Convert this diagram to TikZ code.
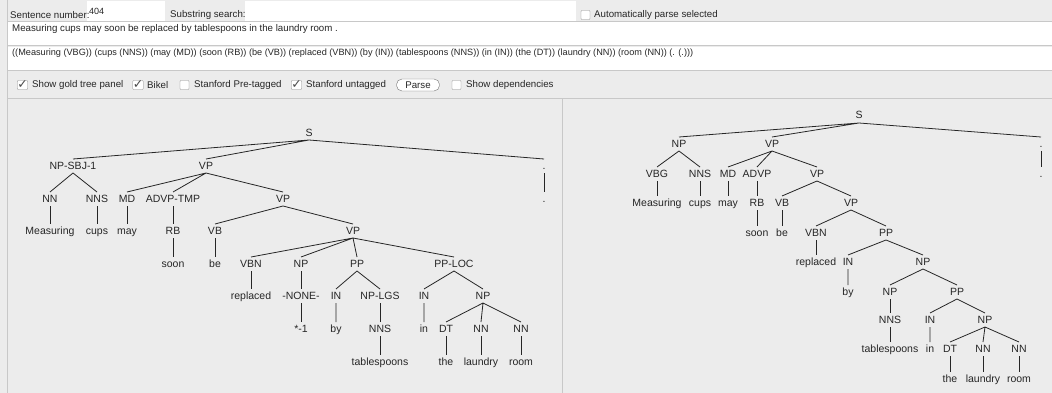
\documentclass[tikz,border=0pt]{standalone}
\usepackage{fontspec}
\setmainfont{Liberation Sans}
\newfontfamily\symfont{DejaVu Sans}
\definecolor{panelgray}{HTML}{ECECEC}
\definecolor{rulegray}{HTML}{C8C8C8}
\definecolor{inkgray}{HTML}{262626}
\tikzset{
	tagnode/.style={inner sep=0pt, outer sep=2pt, text height=8pt, text depth=2pt,
		font=\fontsize{10.5}{12}\selectfont, text=inkgray},
	branch/.style={draw=inkgray, line width=0.8pt},
	uitext/.style={inner sep=0pt, anchor=west, font=\fontsize{9.7}{11}\selectfont, text=inkgray},
	tickbox/.style={draw=black!45, fill=white, rounded corners=0.8pt, minimum size=9pt,
		inner sep=0pt, font=\symfont\fontsize{12.5}{12}\selectfont, text=black!70}
}

\begin{document}
\begin{tikzpicture}[x=1pt, y=-1pt]
	\useasboundingbox (0,0) rectangle (1052,393);
	\fill[panelgray] (0,0) rectangle (1052,393);
	% header fields
	\fill[white] (87,1) rectangle (165,21);
	\fill[white] (245,1) rectangle (576,21);
	\fill[white] (8,22) rectangle (1052,45);
	\fill[white] (8,47) rectangle (1052,70);
	\draw[rulegray] (8,21.5) -- (1052,21.5);
	\draw[rulegray] (8,45.5) -- (1052,45.5);
	\draw[rulegray] (8,70.5) -- (1052,70.5);
	\draw[rulegray] (8,98.5) -- (1052,98.5);
	\draw[rulegray] (7.5,0) -- (7.5,393);
	\draw[rulegray] (562,98.5) -- (562,393);

	\node[uitext] (sentlabel) at (10,15) {Sentence number:};
	\node[uitext, font=\fontsize{9}{10}\selectfont] (sentnum) at (89,11) {404};
	\node[uitext] (searchlabel) at (170,15) {Substring search:};
	\node[tickbox] (autobox) at (585.5,15) {};
	\node[uitext] (autolabel) at (594,15) {Automatically parse selected};
	\node[uitext] (sentence) at (12,29) {Measuring cups may soon be replaced by tablespoons in the laundry room .};
	\node[uitext, font=\fontsize{9.15}{10}\selectfont] (parsestr) at (12,53) {((Measuring (VBG)) (cups (NNS)) (may (MD)) (soon (RB)) (be (VB)) (replaced (VBN)) (by (IN)) (tablespoons (NNS)) (in (IN)) (the (DT)) (laundry (NN)) (room (NN)) (. (.)))};

	% toolbar
	\node[tickbox] (goldbox) at (22.5,85) {✓};
	\node[uitext] (goldlabel) at (32,85) {Show gold tree panel};
	\node[tickbox] (bikelbox) at (138,85) {✓};
	\node[uitext] (bikellabel) at (147,85) {Bikel};
	\node[tickbox] (pretagbox) at (184.5,85) {};
	\node[uitext] (pretaglabel) at (194,85) {Stanford Pre-tagged};
	\node[tickbox] (untagbox) at (296.5,85) {✓};
	\node[uitext] (untaglabel) at (306,85) {Stanford untagged};
	\node[draw=black!55, fill=white, rounded corners=5.5pt, minimum width=43pt, minimum height=12pt,
		inner sep=0pt, font=\fontsize{9.7}{11}\selectfont, text=inkgray] (parsebtn) at (418,85) {Parse};
	\node[tickbox] (depbox) at (456.5,85) {};
	\node[uitext] (deplabel) at (466,85) {Show dependencies};

	% gold tree
	\node[tagnode] (ls) at (309,133) {S};
	\node[tagnode] (lnpsbj) at (73,166) {NP-SBJ-1};
	\node[tagnode] (lvp1) at (206,166) {VP};
	\node[tagnode] (lpt) at (544,166) {.};
	\node[tagnode] (lnn) at (50,199) {NN};
	\node[tagnode] (lnns) at (97,199) {NNS};
	\node[tagnode] (lmd) at (127,199) {MD};
	\node[tagnode] (ladvp) at (173,199) {ADVP-TMP};
	\node[tagnode] (lvp2) at (283,199) {VP};
	\node[tagnode] (lpw) at (544,199) {.};
	\node[tagnode] (lw1) at (50,231) {Measuring};
	\node[tagnode] (lw2) at (97,231) {cups};
	\node[tagnode] (lw3) at (127,231) {may};
	\node[tagnode] (lrb) at (173,231) {RB};
	\node[tagnode] (lvb) at (215,231) {VB};
	\node[tagnode] (lvp3) at (353,231) {VP};
	\node[tagnode] (lw4) at (173,264) {soon};
	\node[tagnode] (lw5) at (215,264) {be};
	\node[tagnode] (lvbn) at (251,264) {VBN};
	\node[tagnode] (lnp1) at (301,264) {NP};
	\node[tagnode] (lpp) at (357,264) {PP};
	\node[tagnode] (lpploc) at (454,264) {PP-LOC};
	\node[tagnode] (lw6) at (251,296) {replaced};
	\node[tagnode] (lnone) at (301,296) {-NONE-};
	\node[tagnode] (lin1) at (336,296) {IN};
	\node[tagnode] (lnplgs) at (380,296) {NP-LGS};
	\node[tagnode] (lin2) at (424,296) {IN};
	\node[tagnode] (lnp2) at (483,296) {NP};
	\node[tagnode] (lw7) at (301,329) {*-1};
	\node[tagnode] (lw8) at (336,329) {by};
	\node[tagnode] (lnns2) at (380,329) {NNS};
	\node[tagnode] (lw9) at (424,329) {in};
	\node[tagnode] (ldt) at (446,329) {DT};
	\node[tagnode] (lnn2) at (481,329) {NN};
	\node[tagnode] (lnn3) at (521,329) {NN};
	\node[tagnode] (lw10) at (380,362) {tablespoons};
	\node[tagnode] (lw11) at (446,362) {the};
	\node[tagnode] (lw12) at (481,362) {laundry};
	\node[tagnode] (lw13) at (521,362) {room};

	\draw[branch] (ls.south) -- (lnpsbj.north) (ls.south) -- (lvp1.north) (ls.south) -- (lpt.north);
	\draw[branch] (lnpsbj.south) -- (lnn.north) (lnpsbj.south) -- (lnns.north);
	\draw[branch] (lvp1.south) -- (lmd.north) (lvp1.south) -- (ladvp.north) (lvp1.south) -- (lvp2.north);
	\draw[branch] (lpt.south) -- (lpw.north);
	\draw[branch] (lnn.south) -- (lw1.north) (lnns.south) -- (lw2.north) (lmd.south) -- (lw3.north) (ladvp.south) -- (lrb.north);
	\draw[branch] (lvp2.south) -- (lvb.north) (lvp2.south) -- (lvp3.north);
	\draw[branch] (lrb.south) -- (lw4.north) (lvb.south) -- (lw5.north);
	\draw[branch] (lvp3.south) -- (lvbn.north) (lvp3.south) -- (lnp1.north) (lvp3.south) -- (lpp.north) (lvp3.south) -- (lpploc.north);
	\draw[branch] (lvbn.south) -- (lw6.north) (lnp1.south) -- (lnone.north) (lnone.south) -- (lw7.north);
	\draw[branch] (lpp.south) -- (lin1.north) (lpp.south) -- (lnplgs.north) (lin1.south) -- (lw8.north);
	\draw[branch] (lnplgs.south) -- (lnns2.north) (lnns2.south) -- (lw10.north);
	\draw[branch] (lpploc.south) -- (lin2.north) (lpploc.south) -- (lnp2.north) (lin2.south) -- (lw9.north);
	\draw[branch] (lnp2.south) -- (ldt.north) (lnp2.south) -- (lnn2.north) (lnp2.south) -- (lnn3.north);
	\draw[branch] (ldt.south) -- (lw11.north) (lnn2.south) -- (lw12.north) (lnn3.south) -- (lw13.north);

	% parser tree
	\node[tagnode] (rs) at (859,116) {S};
	\node[tagnode] (rnp) at (679,144) {NP};
	\node[tagnode] (rvp1) at (772,144) {VP};
	\node[tagnode] (rpt) at (1041,144) {.};
	\node[tagnode] (rvbg) at (657,174) {VBG};
	\node[tagnode] (rnns) at (700,174) {NNS};
	\node[tagnode] (rmd) at (728,174) {MD};
	\node[tagnode] (radvp) at (757,174) {ADVP};
	\node[tagnode] (rvp2) at (817,174) {VP};
	\node[tagnode] (rpw) at (1041,174) {.};
	\node[tagnode] (rw1) at (657,203) {Measuring};
	\node[tagnode] (rw2) at (700,203) {cups};
	\node[tagnode] (rw3) at (728,203) {may};
	\node[tagnode] (rrb) at (757,203) {RB};
	\node[tagnode] (rvb) at (782,203) {VB};
	\node[tagnode] (rvp3) at (851,203) {VP};
	\node[tagnode] (rw4) at (757,233) {soon};
	\node[tagnode] (rw5) at (782,233) {be};
	\node[tagnode] (rvbn) at (816,233) {VBN};
	\node[tagnode] (rpp1) at (886,233) {PP};
	\node[tagnode] (rw6) at (816,262) {replaced};
	\node[tagnode] (rin1) at (848,262) {IN};
	\node[tagnode] (rnp2) at (923,262) {NP};
	\node[tagnode] (rw7) at (848,292) {by};
	\node[tagnode] (rnp3) at (890,292) {NP};
	\node[tagnode] (rpp2) at (957,292) {PP};
	\node[tagnode] (rnns2) at (890,320) {NNS};
	\node[tagnode] (rin2) at (930,320) {IN};
	\node[tagnode] (rnp4) at (985,320) {NP};
	\node[tagnode] (rw8) at (890,349) {tablespoons};
	\node[tagnode] (rw9) at (930,349) {in};
	\node[tagnode] (rdt) at (950,349) {DT};
	\node[tagnode] (rnn1) at (983,349) {NN};
	\node[tagnode] (rnn2) at (1019,349) {NN};
	\node[tagnode] (rw10) at (950,379) {the};
	\node[tagnode] (rw11) at (983,379) {laundry};
	\node[tagnode] (rw12) at (1019,379) {room};

	\draw[branch] (rs.south) -- (rnp.north) (rs.south) -- (rvp1.north) (rs.south) -- (rpt.north);
	\draw[branch] (rnp.south) -- (rvbg.north) (rnp.south) -- (rnns.north);
	\draw[branch] (rvp1.south) -- (rmd.north) (rvp1.south) -- (radvp.north) (rvp1.south) -- (rvp2.north);
	\draw[branch] (rpt.south) -- (rpw.north);
	\draw[branch] (rvbg.south) -- (rw1.north) (rnns.south) -- (rw2.north) (rmd.south) -- (rw3.north) (radvp.south) -- (rrb.north);
	\draw[branch] (rvp2.south) -- (rvb.north) (rvp2.south) -- (rvp3.north);
	\draw[branch] (rrb.south) -- (rw4.north) (rvb.south) -- (rw5.north);
	\draw[branch] (rvp3.south) -- (rvbn.north) (rvp3.south) -- (rpp1.north);
	\draw[branch] (rvbn.south) -- (rw6.north);
	\draw[branch] (rpp1.south) -- (rin1.north) (rpp1.south) -- (rnp2.north) (rin1.south) -- (rw7.north);
	\draw[branch] (rnp2.south) -- (rnp3.north) (rnp2.south) -- (rpp2.north);
	\draw[branch] (rnp3.south) -- (rnns2.north) (rnns2.south) -- (rw8.north);
	\draw[branch] (rpp2.south) -- (rin2.north) (rpp2.south) -- (rnp4.north) (rin2.south) -- (rw9.north);
	\draw[branch] (rnp4.south) -- (rdt.north) (rnp4.south) -- (rnn1.north) (rnp4.south) -- (rnn2.north);
	\draw[branch] (rdt.south) -- (rw10.north) (rnn1.south) -- (rw11.north) (rnn2.south) -- (rw12.north);
\end{tikzpicture}
\end{document}
